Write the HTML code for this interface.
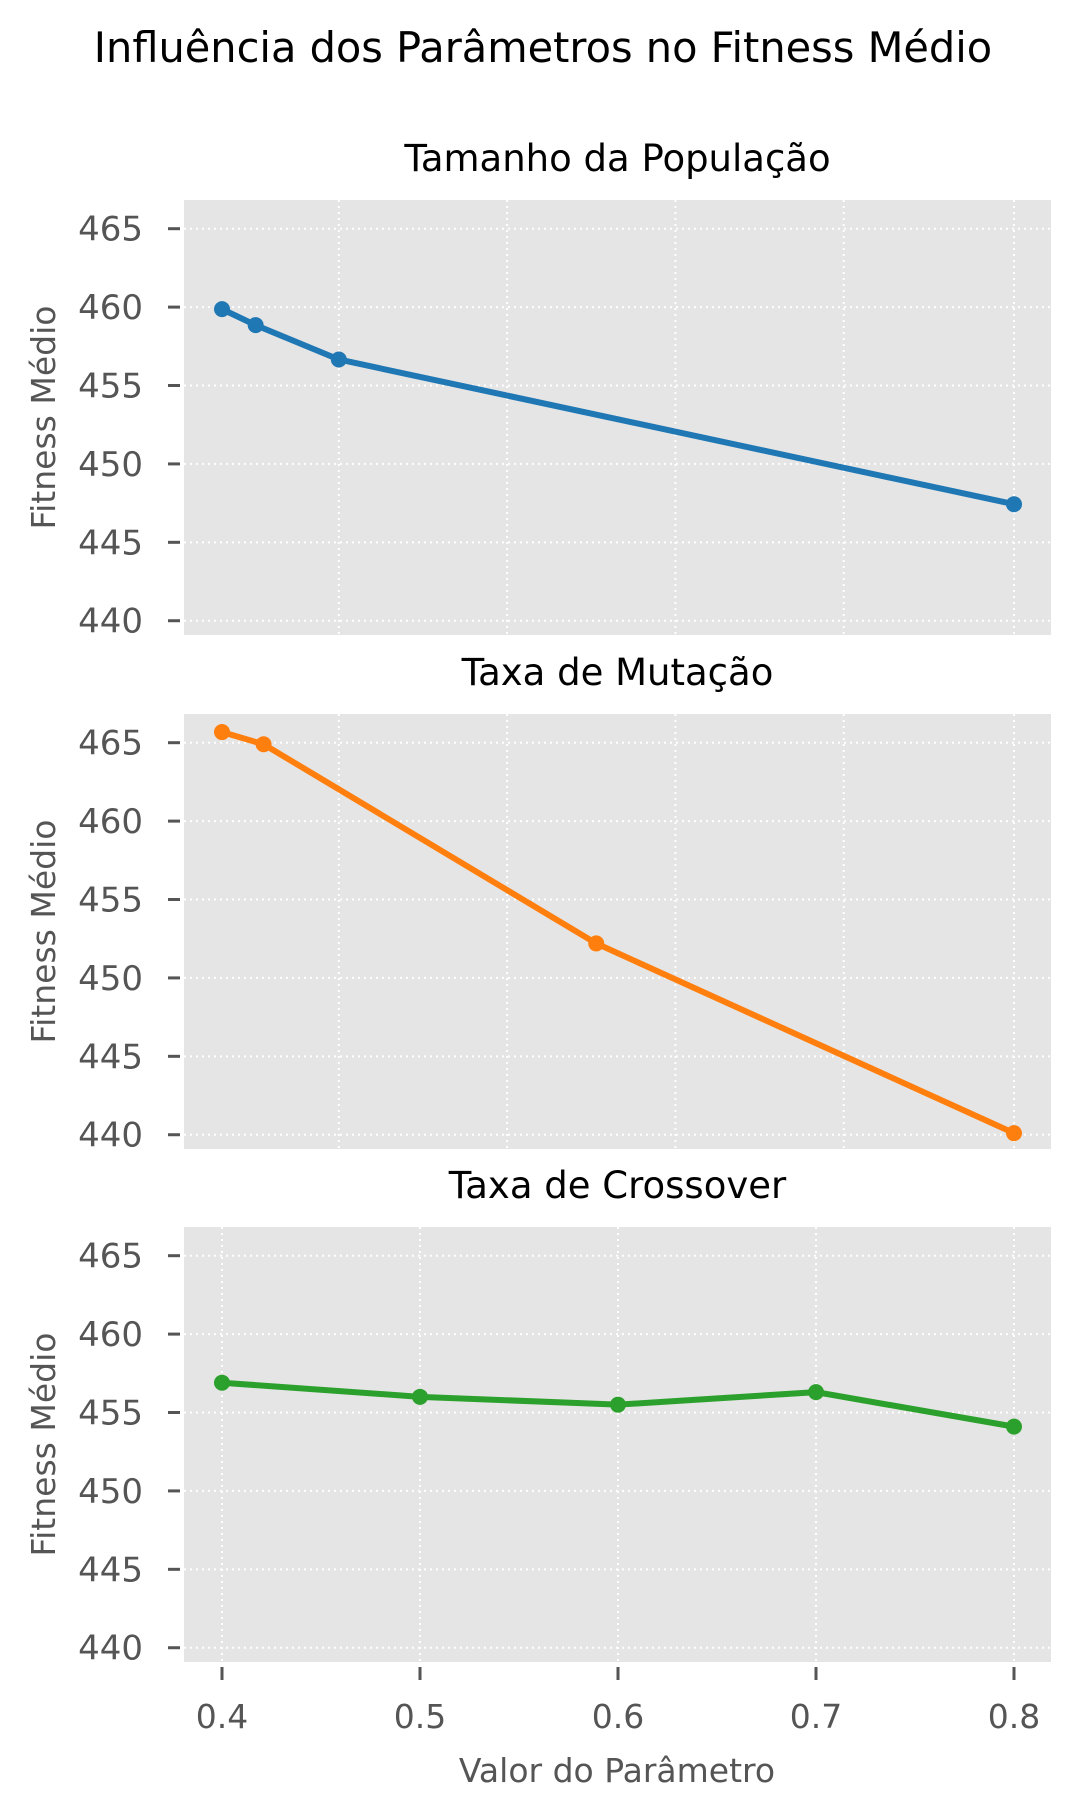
<!DOCTYPE html>
<html><head><meta charset="utf-8"><style>
html,body{margin:0;padding:0;background:#fff;}
svg text{font-family:"DejaVu Sans","Liberation Sans",sans-serif;}
</style></head><body>
<svg id="chart" width="1079" height="1813" viewBox="0 0 1079 1813" xmlns="http://www.w3.org/2000/svg">
<text x="543" y="62" font-size="41.5" text-anchor="middle" fill="#000">Influência dos Parâmetros no Fitness Médio</text>
<text x="617" y="1782" font-size="33" text-anchor="middle" fill="#555">Valor do Parâmetro</text>
</svg>
<script>
const panelTitles = ["Tamanho da População", "Taxa de Mutação", "Taxa de Crossover"];
const popX = [0.4, 0.417, 0.459, 0.8];
const popY = [459.87, 458.85, 456.66, 447.43];
const mutX = [0.4, 0.421, 0.589, 0.8];
const mutY = [465.68, 464.9, 452.2, 440.1];
const crossX = [0.4, 0.5, 0.6, 0.7, 0.8];
const crossY = [456.9, 456.0, 455.5, 456.3, 454.1];
const yTicks = [440, 445, 450, 455, 460, 465];
const gridXTop = [0.459, 0.544, 0.629, 0.714, 0.8];
const xTickLabels = ["0.4", "0.5", "0.6", "0.7", "0.8"];
const xTickValues = [0.4, 0.5, 0.6, 0.7, 0.8];

const svg = document.getElementById('chart');
const NS = 'http://www.w3.org/2000/svg';
const L = 184, R = 1051, H = 435;
const tops = [200, 714, 1227];
const yMin = 439.09, yMax = 466.83;
function xs(v){ return 222 + (v - 0.4) / 0.4 * (1014 - 222); }
function ys(v, top){ return top + (yMax - v) / (yMax - yMin) * H; }
function mk(tag, attrs){ const e = document.createElementNS(NS, tag); for (const k in attrs) e.setAttribute(k, attrs[k]); svg.appendChild(e); return e; }

const series = [[popX, popY, '#1f77b4'], [mutX, mutY, '#ff7f0e'], [crossX, crossY, '#2ca02c']];
const names = ['population', 'mutation', 'crossover'];
series.forEach((s, i) => {
  const top = tops[i];
  const bg = mk('rect', {x: L, y: top, width: R - L, height: H, fill: '#e5e5e5'});
  
  
  const t = mk('text', {x: (L + R) / 2, y: top - 29, 'font-size': 37, 'text-anchor': 'middle', fill: '#000'});
  t.textContent = panelTitles[i];
  
  
  const gx = i < 2 ? gridXTop : xTickValues;
  gx.forEach(v => {
    const g = mk('line', {x1: xs(v), x2: xs(v), y1: top, y2: top + H, stroke: '#fff', 'stroke-width': 2, 'stroke-dasharray': '2,4'});
    
    
  });
  yTicks.forEach(v => {
    const y = ys(v, top);
    const g = mk('line', {x1: L, x2: R, y1: y, y2: y, stroke: '#fff', 'stroke-width': 2, 'stroke-dasharray': '2,4'});
    
    
    const tk = mk('line', {x1: 168, x2: 180, y1: y, y2: y, stroke: '#555', 'stroke-width': 3});
    
    
    const tl = mk('text', {x: 143, y: y + 12, 'font-size': 34, 'text-anchor': 'end', fill: '#555'});
    tl.textContent = v;
    
    
  });
  const yl = mk('text', {x: 0, y: 0, 'font-size': 33, 'text-anchor': 'middle', fill: '#555', transform: `translate(55,${top + H / 2}) rotate(-90)`});
  yl.textContent = 'Fitness Médio';
  
  
  const pts = s[0].map((x, j) => xs(x) + ',' + ys(s[1][j], top)).join(' ');
  const pl = mk('polyline', {points: pts, fill: 'none', stroke: s[2], 'stroke-width': 6, 'stroke-linejoin': 'round'});
  
  
  s[0].forEach((x, j) => {
    const c = mk('circle', {cx: xs(x), cy: ys(s[1][j], top), r: 8, fill: s[2]});
    
    
  });
});
const bt = tops[2] + H;
xTickValues.forEach((v, k) => {
  const tk = mk('line', {x1: xs(v), x2: xs(v), y1: bt + 5, y2: bt + 18, stroke: '#555', 'stroke-width': 3});
  
  
  const tl = mk('text', {x: xs(v), y: bt + 66, 'font-size': 33, 'text-anchor': 'middle', fill: '#555'});
  tl.textContent = xTickLabels[k];
  
  
});
</script>
</body></html>
